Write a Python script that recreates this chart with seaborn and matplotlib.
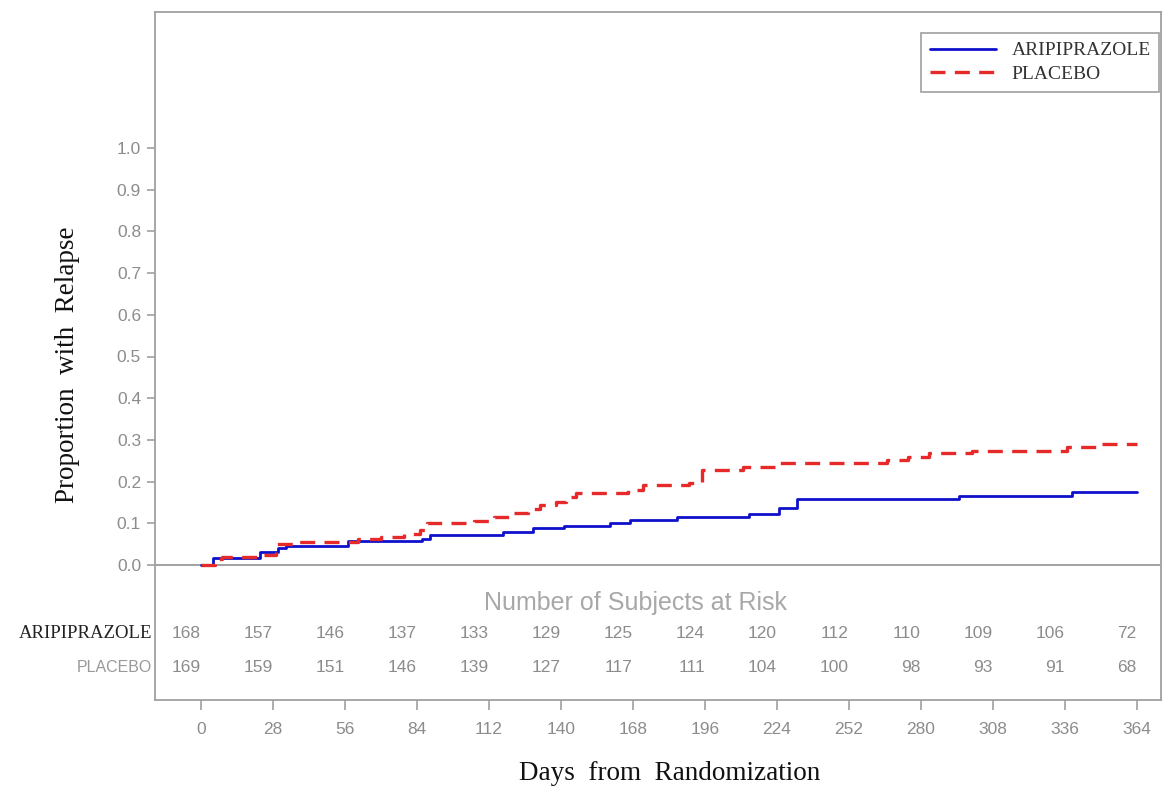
import numpy as np
import pandas as pd
import matplotlib
matplotlib.use("Agg")
import matplotlib.pyplot as plt
import matplotlib.transforms as mtransforms
import seaborn as sns

# ---- data ----
ari_days = [0, 4.5, 23, 30, 33, 57, 86, 89, 117.6, 129, 141, 159, 167, 185,
            213, 225, 232, 295, 338.6, 364]
ari_prop = [0, 0.017, 0.031, 0.040, 0.045, 0.058, 0.063, 0.071, 0.079, 0.088,
            0.094, 0.100, 0.108, 0.115, 0.122, 0.137, 0.158, 0.165, 0.174, 0.174]

pla_days = [0, 5.5, 8, 24, 29, 36, 61, 70, 79, 85, 88, 106, 114, 121, 127, 132,
            138, 142, 146, 166, 172, 190, 195, 211, 225, 267, 275, 283, 300,
            337, 349, 364]
pla_prop = [0, 0.014, 0.020, 0.024, 0.050, 0.055, 0.062, 0.067, 0.075, 0.085,
            0.100, 0.106, 0.116, 0.125, 0.134, 0.143, 0.151, 0.162, 0.173,
            0.180, 0.192, 0.197, 0.228, 0.236, 0.244, 0.252, 0.260, 0.268,
            0.274, 0.282, 0.290, 0.290]

risk_days = [0, 28, 56, 84, 112, 140, 168, 196, 224, 252, 280, 308, 336, 364]
risk_ari = [168, 157, 146, 137, 133, 129, 125, 124, 120, 112, 110, 109, 106, 72]
risk_pla = [169, 159, 151, 146, 139, 127, 117, 111, 104, 100, 98, 93, 91, 68]

groups = ["ARIPIPRAZOLE", "PLACEBO"]
y_ticks = [0.0, 0.1, 0.2, 0.3, 0.4, 0.5, 0.6, 0.7, 0.8, 0.9, 1.0]

# ---- style ----
sns.set_theme(style="white")
plt.rcParams['font.family'] = ['Liberation Sans', 'DejaVu Sans']

W, H = 1174, 786
fig = plt.figure(figsize=(W / 100, H / 100), dpi=100)
left_px, right_px, top_px, bottom_px = 155, 1161, 12, 700
ax = fig.add_axes([left_px / W, 1 - bottom_px / H,
                   (right_px - left_px) / W, (bottom_px - top_px) / H])

px_per_day = 2.571
x0_px = 201
ax.set_xlim((left_px - x0_px) / px_per_day, (right_px - x0_px) / px_per_day)
y0_px, px_per_unit = 565, 417
ax.set_ylim((y0_px - bottom_px) / px_per_unit, (y0_px - top_px) / px_per_unit)

df_a = pd.DataFrame({"day": ari_days, "prop": ari_prop})
df_p = pd.DataFrame({"day": pla_days, "prop": pla_prop})

sns.lineplot(data=df_a, x="day", y="prop", ax=ax, color="#1010CC",
             linewidth=2.0, drawstyle="steps-post", estimator=None, sort=False,
             label=groups[0])
sns.lineplot(data=df_p, x="day", y="prop", ax=ax, color="#E62A2A",
             linewidth=2.4, drawstyle="steps-post", estimator=None, sort=False,
             dashes=False, label=groups[1])
ax.lines[-1].set_linestyle((0, (4.5, 2.8)))

ax.axhline(0, color="#9a9a9a", linewidth=1.3, zorder=1)

gray = "#8c8c8c"
for s in ax.spines.values():
    s.set_color("#a0a0a0")
    s.set_linewidth(1.3)

ax.set_xticks(risk_days)
ax.set_xticklabels([str(d) for d in risk_days])
ax.set_yticks(y_ticks)
ax.set_yticklabels([f"{v:.1f}" for v in y_ticks])
ax.tick_params(axis="both", which="both", direction="out", colors="#a0a0a0",
               labelcolor=gray, labelsize=12.5, left=True, bottom=True,
               length=7, width=1.2)
ax.tick_params(axis="x", pad=9)
ax.tick_params(axis="y", pad=4, length=6)
ax.set_xlabel("")
ax.set_ylabel("")

# risk table
ax.text((636 - x0_px) / px_per_day, -0.091, "Number of Subjects at Risk",
        ha="center", va="center", fontsize=18, color="#a8a8a8")
for d, a, p in zip(risk_days, risk_ari, risk_pla):
    ax.text(d, -0.165, str(a), ha="right", va="center", fontsize=12.5, color=gray)
    ax.text(d, -0.247, str(p), ha="right", va="center", fontsize=12.5, color=gray)

trans = mtransforms.blended_transform_factory(ax.transAxes, ax.transData)
ax.text(-0.003, -0.165, groups[0], transform=trans, ha="right", va="center",
        fontsize=13.5, family="Liberation Serif", color="#222222")
ax.text(-0.003, -0.247, groups[1], transform=trans, ha="right", va="center",
        fontsize=11.5, color="#999999")

# axis titles
fig.text(68 / W, 1 - 365 / H, "Proportion  with  Relapse", rotation=90,
         ha="center", va="center", fontsize=19.5, family="Liberation Serif",
         color="#111111")
fig.text(670 / W, 1 - 773 / H, "Days  from  Randomization", ha="center",
         va="center", fontsize=19.5, family="Liberation Serif",
         color="#111111")

leg = ax.legend(loc="upper right", bbox_to_anchor=(0.9985, 1 - (33 - 12) / 688),
                borderaxespad=0, frameon=True, fancybox=False, framealpha=1,
                edgecolor="#a0a0a0", handlelength=3.4, handletextpad=0.8,
                borderpad=0.45, labelspacing=0.3,
                prop={"family": "Liberation Serif", "size": 14})
for t in leg.get_texts():
    t.set_color("#333333")
leg.get_frame().set_linewidth(1.2)

fig.savefig("out.png", dpi=100, facecolor="white")
